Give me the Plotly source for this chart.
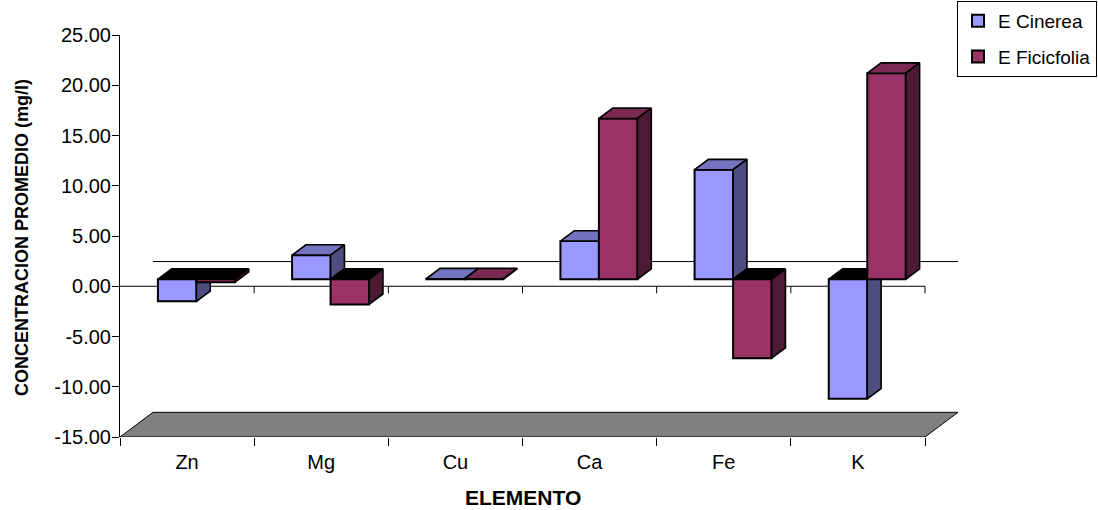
import plotly.graph_objects as go

# ---------------- data ----------------
categories = ["Zn", "Mg", "Cu", "Ca", "Fe", "K"]
series_names = ["E Cinerea", "E Ficicfolia"]
cinerea = [-2.2, 2.4, 0.05, 3.8, 10.9, -11.9]
ficicfolia = [-0.3, -2.5, 0.05, 16.0, -7.85, 20.5]
y_tick_vals = [-15, -10, -5, 0, 5, 10, 15, 20, 25]
y_tick_text = ["-15.00", "-10.00", "-5.00", "0.00", "5.00", "10.00", "15.00", "20.00", "25.00"]
x_title = "ELEMENTO"
y_title = "CONCENTRACION PROMEDIO (mg/l)"

# ---------------- styling / geometry ----------------
FONT = "Liberation Sans, Arial, sans-serif"
FRONT = ["#9999FF", "#993366"]
TOP = ["#7373BF", "#7A2952"]
SIDE = ["#4D4D80", "#4D1A33"]

W_PX, H_PX = 1098, 510
LEFT, TOP_M, BOTTOM = 120, 35, 73
Y_MIN, Y_MAX = -15, 25
n = len(categories)
PX_PER_CAT = 805 / n
PX_PER_UNIT = (H_PX - TOP_M - BOTTOM) / (Y_MAX - Y_MIN)
DEPTH_X = 33 / PX_PER_CAT          # full floor depth (category units)
DEPTH_Y = 24.7 / PX_PER_UNIT       # full floor depth (value units)
BAR_FRONT = 0.283                  # bars' front plane (fraction of depth)
BAR_DEPTH = 0.42                   # bars' depth (fraction of depth)
sx, sy = BAR_FRONT * DEPTH_X, BAR_FRONT * DEPTH_Y
dx, dy = BAR_DEPTH * DEPTH_X, BAR_DEPTH * DEPTH_Y
BW = 0.287                         # bar width (category units)
X_LO, X_HI = -0.5, n - 0.5 + DEPTH_X
RIGHT = W_PX - LEFT - (X_HI - X_LO) * PX_PER_CAT
TICK_UNITS = 7 / PX_PER_UNIT
PLOT_W = W_PX - LEFT - RIGHT
PLOT_H = H_PX - TOP_M - BOTTOM

fig = go.Figure()

# main (category) subplot, used for the axes
fig.add_trace(go.Scatter(x=categories, y=[0] * n, mode="markers",
                         marker=dict(opacity=0), showlegend=False, hoverinfo="skip"))

# ---- floor and zero lines (unshifted numeric overlay x2/y2) ----
fx = [X_LO, n - 0.5, n - 0.5 + DEPTH_X, X_LO + DEPTH_X, X_LO]
fy = [Y_MIN, Y_MIN, Y_MIN + DEPTH_Y, Y_MIN + DEPTH_Y, Y_MIN]
fig.add_trace(go.Scatter(x=fx, y=fy, mode="lines", fill="toself", fillcolor="#808080",
                         line=dict(color="black", width=1), xaxis="x2", yaxis="y2",
                         showlegend=False, hoverinfo="skip"))
# back-wall zero line
fig.add_trace(go.Scatter(x=[X_LO + DEPTH_X, n - 0.5 + DEPTH_X], y=[DEPTH_Y, DEPTH_Y],
                         mode="lines", line=dict(color="black", width=1),
                         xaxis="x2", yaxis="y2", showlegend=False, hoverinfo="skip"))
# front zero line with category ticks
zx, zy = [X_LO, n - 0.5], [0, 0]
for k in range(1, n + 1):
    b = X_LO + k
    zx += [None, b, b]
    zy += [None, 0, -TICK_UNITS]
fig.add_trace(go.Scatter(x=zx, y=zy, mode="lines", line=dict(color="black", width=1),
                         xaxis="x2", yaxis="y2", showlegend=False, hoverinfo="skip"))


def faces(vals, offset):
    tops_c, tops_k, sides = ([], []), ([], []), ([], [])
    for i, v in enumerate(vals):
        x0 = i + offset
        x1 = x0 + BW
        if v >= 0:
            top = [(x0, v), (x1, v), (x1 + dx, v + dy), (x0 + dx, v + dy), (x0, v)]
            side = [(x1, 0), (x1, v), (x1 + dx, v + dy), (x1 + dx, dy), (x1, 0)]
            tgt = tops_c
        else:
            top = [(x0, 0), (x1, 0), (x1 + dx, dy), (x0 + dx, dy), (x0, 0)]
            side = [(x1, v), (x1, 0), (x1 + dx, dy), (x1 + dx, v + dy), (x1, v)]
            tgt = tops_k
        for poly, dst in ((top, tgt), (side, sides)):
            dst[0].extend([p[0] for p in poly] + [None])
            dst[1].extend([p[1] for p in poly] + [None])
    return tops_c, tops_k, sides


for s, (vals, offset, xa, ya) in enumerate([(cinerea, -BW, "x3", "y3"),
                                             (ficicfolia, 0.0, "x4", "y4")]):
    fig.add_trace(go.Bar(x=list(range(n)), y=vals, offset=offset, width=BW,
                         name=series_names[s], legendgroup=series_names[s],
                         marker=dict(color=FRONT[s], line=dict(color="black", width=2)),
                         xaxis=xa, yaxis=ya))
    tc, tk, sd = faces(vals, offset)
    for (xs, ys), col in ((tc, TOP[s]), (tk, "#000000"), (sd, SIDE[s])):
        if xs:
            fig.add_trace(go.Scatter(x=xs, y=ys, mode="lines", fill="toself", fillcolor=col,
                                     line=dict(color="black", width=1.6),
                                     xaxis=xa, yaxis=ya, showlegend=False,
                                     hoverinfo="skip"))

hidden = dict(visible=False, showgrid=False, zeroline=False, fixedrange=True)
fig.update_layout(
    width=W_PX, height=H_PX,
    margin=dict(l=LEFT, r=RIGHT, t=TOP_M, b=BOTTOM, autoexpand=False),
    paper_bgcolor="white", plot_bgcolor="white",
    font=dict(family=FONT, size=20, color="black"),
    barmode="overlay",
    xaxis=dict(type="category", categoryorder="array", categoryarray=categories,
               range=[X_LO, X_HI], showgrid=False, zeroline=False, showline=False,
               ticks="outside", ticklen=8, tickcolor="black", tickson="boundaries",
               tickfont=dict(size=20), ticklabelstandoff=11),
    yaxis=dict(range=[Y_MIN, Y_MAX], tickvals=y_tick_vals, ticktext=y_tick_text,
               showgrid=False, zeroline=False, showline=True, linecolor="black",
               linewidth=1, ticks="outside", ticklen=7, tickcolor="black",
               tickfont=dict(size=20), ticklabelstandoff=-3),
    xaxis2=dict(overlaying="x", anchor="y2", range=[X_LO, X_HI], **hidden),
    yaxis2=dict(overlaying="y", anchor="x2", range=[Y_MIN, Y_MAX], **hidden),
    xaxis3=dict(overlaying="x", anchor="y3", range=[X_LO - sx, X_HI - sx], **hidden),
    yaxis3=dict(overlaying="y", anchor="x3", range=[Y_MIN - sy, Y_MAX - sy], **hidden),
    xaxis4=dict(overlaying="x", anchor="y4", range=[X_LO - sx, X_HI - sx], **hidden),
    yaxis4=dict(overlaying="y", anchor="x4", range=[Y_MIN - sy, Y_MAX - sy], **hidden),
    legend=dict(x=(957 - LEFT) / PLOT_W, y=(437 - 1) / PLOT_H,
                xanchor="left", yanchor="top", bgcolor="white",
                bordercolor="black", borderwidth=1, font=dict(size=19),
                itemwidth=30, traceorder="grouped", tracegroupgap=8),
    showlegend=True,
    annotations=[
        dict(text="<b>%s</b>" % x_title, xref="paper", yref="paper",
             x=(523 - LEFT) / PLOT_W, y=(437 - 497) / PLOT_H,
             xanchor="center", yanchor="middle", showarrow=False, font=dict(size=21)),
        dict(text="<b>%s</b>" % y_title, xref="paper", yref="paper",
             x=(22 - LEFT) / PLOT_W, y=(437 - 238) / PLOT_H, textangle=-90,
             xanchor="center", yanchor="middle", showarrow=False, font=dict(size=18)),
    ],
)

fig.write_html("out.html")
